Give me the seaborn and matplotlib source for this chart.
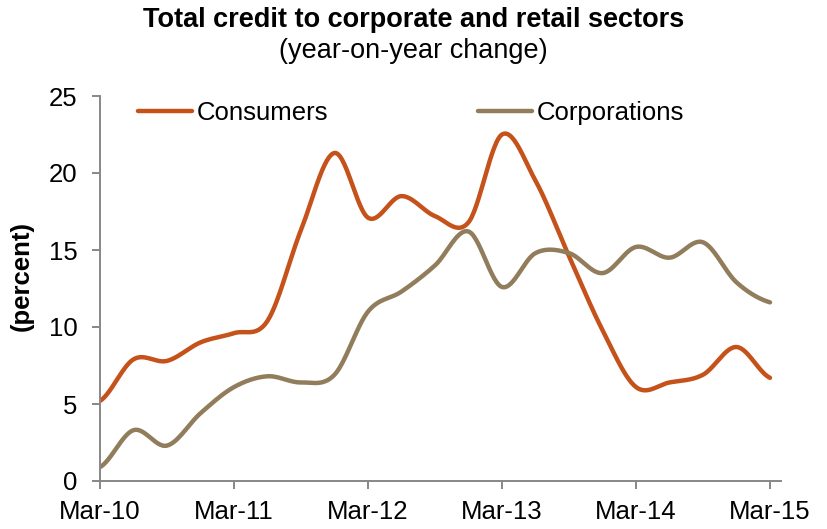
import numpy as np
import pandas as pd
import matplotlib
matplotlib.use("Agg")
import matplotlib.pyplot as plt
import seaborn as sns

# Quarterly year-on-year change in credit, percent
quarters = ["Mar-10", "Jun-10", "Sep-10", "Dec-10",
            "Mar-11", "Jun-11", "Sep-11", "Dec-11",
            "Mar-12", "Jun-12", "Sep-12", "Dec-12",
            "Mar-13", "Jun-13", "Sep-13", "Dec-13",
            "Mar-14", "Jun-14", "Sep-14", "Dec-14",
            "Mar-15"]
consumers = [5.2, 7.9, 7.8, 9.0,
             9.6, 10.4, 16.3, 21.3,
             17.1, 18.5, 17.2, 16.8,
             22.5, 19.5, 14.6, 9.8,
             6.1, 6.4, 6.9, 8.7,
             6.7]
corporations = [0.9, 3.3, 2.3, 4.4,
                6.1, 6.8, 6.4, 6.9,
                11.0, 12.3, 14.0, 16.2,
                12.6, 14.8, 14.8, 13.5,
                15.2, 14.5, 15.5, 12.9,
                11.6]
series_names = ["Consumers", "Corporations"]
tick_labels = ["Mar-10", "Mar-11", "Mar-12", "Mar-13", "Mar-14", "Mar-15"]

colors = {"Consumers": "#C4521A", "Corporations": "#917D5B"}
axis_gray = "#878787"


def smooth(values, steps=30):
    """Catmull-Rom curve through equally spaced points (like a smoothed line chart)."""
    y = np.asarray(values, dtype=float)
    x = np.arange(len(y), dtype=float)
    px = np.concatenate([[x[0] - 1], x, [x[-1] + 1]])
    py = np.concatenate([[y[0]], y, [y[-1]]])
    t = np.linspace(0, 1, steps, endpoint=False)
    xs, ys = [], []
    for i in range(len(y) - 1):
        for p, out in ((px, xs), (py, ys)):
            p0, p1, p2, p3 = p[i:i + 4]
            out.append(0.5 * (2 * p1 + (-p0 + p2) * t
                              + (2 * p0 - 5 * p1 + 4 * p2 - p3) * t ** 2
                              + (-p0 + 3 * p1 - 3 * p2 + p3) * t ** 3))
    xs.append([x[-1]])
    ys.append([y[-1]])
    return np.concatenate(xs), np.concatenate(ys)


frames = []
for name, vals in zip(series_names, [consumers, corporations]):
    sx, sy = smooth(vals)
    frames.append(pd.DataFrame({"x": sx, "value": sy, "series": name}))
df = pd.concat(frames, ignore_index=True)

sns.set_theme(style="white")
plt.rcParams["font.family"] = ["Liberation Sans", "DejaVu Sans"]
plt.rcParams["text.color"] = "black"

fig = plt.figure(figsize=(8.27, 5.29), dpi=100)
ax = fig.add_axes([100 / 827, 1 - 481 / 529, 681 / 827, 385 / 529])

sns.lineplot(data=df, x="x", y="value", hue="series", hue_order=series_names,
             palette=colors, linewidth=3.2, sort=False, estimator=None,
             ax=ax, legend=False)
for line in ax.get_lines():
    line.set_solid_capstyle("round")

n_per_year = 4
ax.set_xlim(0, (781 - 100) / 33.5)
ax.set_ylim(0, 25)
ax.set_xticks(np.arange(0, len(quarters), n_per_year))
ax.set_xticklabels(tick_labels)
ax.set_yticks(np.arange(0, 26, 5))
ax.set_xlabel("")
ax.set_ylabel("")

for side in ("top", "right"):
    ax.spines[side].set_visible(False)
for side in ("left", "bottom"):
    ax.spines[side].set_color(axis_gray)
    ax.spines[side].set_linewidth(1.4)
ax.tick_params(axis="both", direction="out", length=6, width=1.4,
               color=axis_gray, labelsize=18.5, labelcolor="black")
ax.tick_params(axis="y", pad=10, left=True)
ax.tick_params(axis="x", pad=8, bottom=True)

# Legend across the top of the plot area
handles = [plt.Line2D([], [], color=colors[n], linewidth=3.2,
                      solid_capstyle="round") for n in series_names]
leg = ax.legend(handles, series_names, loc="center left",
                bbox_to_anchor=(138 / 827, 1 - 113 / 529),
                bbox_transform=fig.transFigure, ncol=2, frameon=False,
                fontsize=18.5, handlelength=2.1, handletextpad=0.2,
                columnspacing=5.8, borderpad=0, borderaxespad=0)
for txt in leg.get_texts():
    txt.set_color("black")

fig.text(0.5, 1 - 20 / 529, "Total credit to corporate and retail sectors",
         ha="center", va="center", fontsize=19.5, fontweight="bold",
         color="black")
fig.text(0.5, 1 - 51 / 529, "(year-on-year change)",
         ha="center", va="center", fontsize=19.5, color="black")
fig.text(22 / 827, 1 - 276 / 529, "(percent)", rotation=90,
         ha="center", va="center", fontsize=18.5, fontweight="bold",
         color="black")

fig.savefig("out.png", dpi=100)
